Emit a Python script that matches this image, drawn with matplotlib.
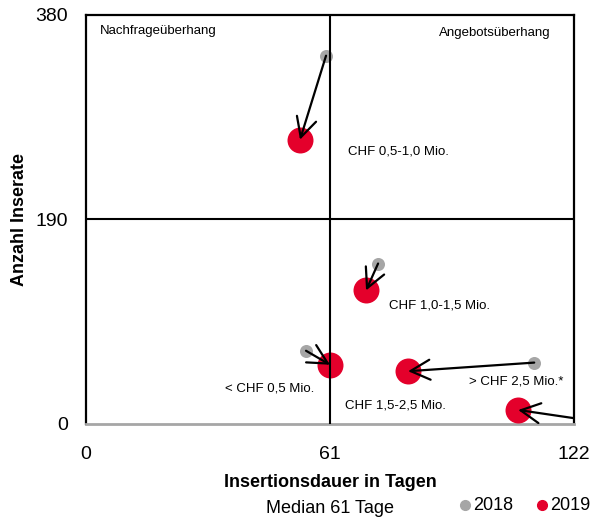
import matplotlib
matplotlib.use("Agg")
import matplotlib.pyplot as plt
from matplotlib.patches import FancyArrowPatch
from matplotlib.lines import Line2D

plt.rcParams["font.family"] = ["Liberation Sans Narrow", "Liberation Sans", "DejaVu Sans"]

# Data: price segments, median insertion duration (days) and number of ads
segments = ["CHF 0,5-1,0 Mio.", "CHF 1,0-1,5 Mio.", "< CHF 0,5 Mio.",
            "CHF 1,5-2,5 Mio.", "> CHF 2,5 Mio.*"]
days_2018 = [60, 73, 55, 112, 130]
ads_2018 = [342, 149, 68, 57, 1]
days_2019 = [53.5, 70, 61, 80.5, 108]
ads_2019 = [264, 124, 55, 49, 13]
years = ["2018", "2019"]

# label positions (data coords, left edge)
label_x = [65.4, 75.7, 34.7, 64.7, 95.7]
label_y = [253, 110, 33, 17, 39]

median_days = 61
mid_ads = 190

gray = "#A6A6A6"
red = "#E4002B"

fig = plt.figure(figsize=(5.92, 5.18), dpi=100)
ax = fig.add_axes([0.145, 0.1815, 0.825, 0.79])

ax.scatter(days_2018, ads_2018, s=88, color=gray, zorder=3, linewidths=0)
ax.scatter(days_2019, ads_2019, s=350, color=red, zorder=3, linewidths=0)

for x0, y0, x1, y1 in zip(days_2018, ads_2018, days_2019, ads_2019):
    arr = FancyArrowPatch((x0, y0), (x1, y1), arrowstyle="->,head_length=0.7,head_width=0.36",
                          mutation_scale=20, lw=1.6, color="black",
                          shrinkA=0, shrinkB=0, zorder=5)
    ax.add_patch(arr)

for name, lx, ly in zip(segments, label_x, label_y):
    ax.text(lx, ly, name, fontsize=9.5, va="center", ha="left")

ax.axvline(median_days, color="black", lw=1.5, zorder=4)
ax.axhline(mid_ads, color="black", lw=1.5, zorder=4)

ax.text(3.5, 365, "Nachfrageüberhang", fontsize=9.5, va="center", ha="left")
ax.text(116, 363, "Angebotsüberhang", fontsize=9.5, va="center", ha="right")

ax.set_xlim(0, 122)
ax.set_ylim(0, 380)
ax.set_xticks([0, 61, 122])
ax.set_yticks([0, 190, 380])
ax.tick_params(length=0, labelsize=14)
ax.tick_params(axis="y", pad=13)
ax.tick_params(axis="x", pad=16)

for side in ["left", "top", "right"]:
    ax.spines[side].set_linewidth(1.6)
    ax.spines[side].set_color("black")
ax.spines["bottom"].set_color(gray)
ax.spines["bottom"].set_linewidth(2)

ax.set_ylabel("Anzahl Inserate", fontsize=13, fontweight="bold", labelpad=5)
ax.set_xlabel("Insertionsdauer in Tagen", fontsize=13, fontweight="bold", labelpad=8)
fig.text(0.557, 0.018, "Median 61 Tage", fontsize=13, ha="center", va="center")

# legend: dot + year text along the bottom right
leg_y = 1 - 505 / 518
for year, col, dot_x in zip(years, [gray, red], [465 / 592, 542 / 592]):
    fig.add_artist(Line2D([dot_x], [leg_y], marker="o", ls="", color=col, markersize=7,
                          transform=fig.transFigure))
    fig.text(dot_x + 8 / 592, leg_y, year, fontsize=13, ha="left", va="center")

fig.savefig("out.png", dpi=100)
